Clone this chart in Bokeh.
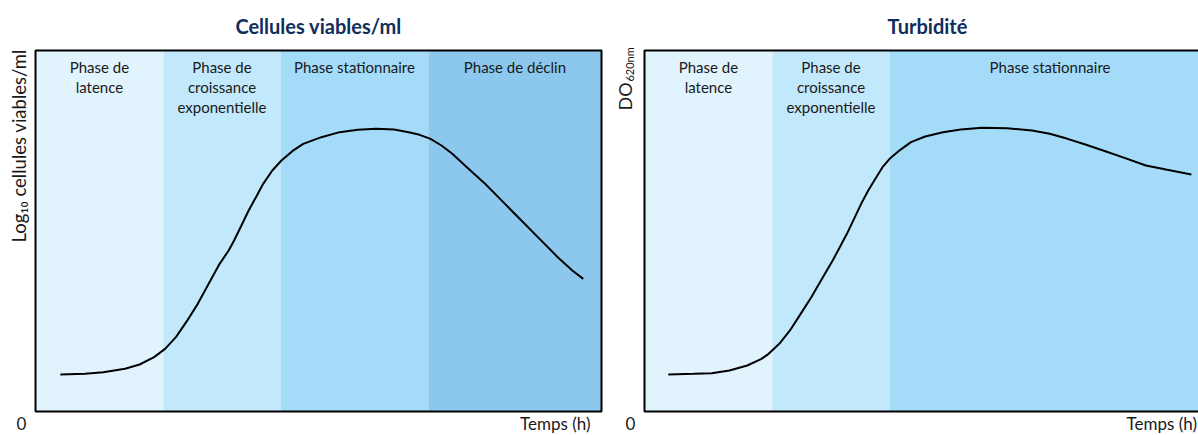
import math
from bokeh.plotting import figure
from bokeh.layouts import row
from bokeh.models import Range1d, ColumnDataSource
from bokeh.core.properties import value
from bokeh.embed import file_html
from bokeh.resources import INLINE

# ---------------- data ----------------
left_title = "Cellules viables/ml"
right_title = "Turbidité"
left_ylabel = "Log₁₀ cellules viables/ml"
right_ylabel_main = "DO"
right_ylabel_sub = "620nm"
xlabel = "Temps (h)"
origin_label = "0"

left_phase_names = ["Phase de\nlatence", "Phase de\ncroissance\nexponentielle",
                    "Phase stationnaire", "Phase de déclin"]
left_phase_bounds = [0, 22.6, 43.3, 69.4, 100]
right_phase_names = ["Phase de\nlatence", "Phase de\ncroissance\nexponentielle",
                     "Phase stationnaire"]
right_phase_bounds = [0, 22.6, 43.3, 100]
phase_colors = ["#e1f4fd", "#c2e9fb", "#a3dbf9", "#8cc8ed"]

left_t = [4.39, 8.75, 11.97, 15.82, 18.39, 20.96, 22.89, 24.81, 26.74, 28.67, 30.60,
          32.53, 34.13, 35.09, 36.38, 37.66, 38.95, 40.23, 41.84, 43.45, 45.37, 47.30,
          50.51, 53.73, 56.94, 60.15, 63.36, 65.93, 67.86, 69.79, 71.72, 73.64, 76.21,
          79.43, 82.64, 85.85, 89.06, 92.27, 94.85, 96.77]
left_v = [10.25, 10.43, 10.90, 11.82, 13.02, 15.05, 17.36, 20.59, 25.02, 29.82, 35.37,
          40.91, 44.60, 47.37, 51.52, 55.68, 59.37, 63.07, 66.76, 69.53, 72.11, 74.15,
          75.99, 77.38, 78.02, 78.30, 78.12, 77.38, 76.64, 75.53, 73.68, 71.38, 67.68,
          63.07, 57.99, 52.91, 47.83, 42.75, 39.06, 36.75]

right_t = [4.20, 8.72, 11.87, 15.01, 18.16, 20.67, 21.93, 23.81, 25.70, 27.59, 29.47,
           31.36, 33.25, 34.50, 35.76, 37.02, 38.28, 39.53, 40.79, 42.05, 43.31, 45.19,
           47.08, 49.59, 52.74, 55.88, 59.65, 64.05, 68.46, 71.60, 74.74, 77.89, 81.03,
           84.80, 88.58, 92.35, 96.62]
right_v = [10.25, 10.43, 10.62, 11.36, 12.74, 14.59, 15.97, 18.74, 22.44, 27.05, 31.67,
           36.75, 41.83, 45.52, 49.22, 53.37, 57.53, 61.22, 64.45, 67.68, 69.99, 72.48,
           74.61, 76.18, 77.38, 78.12, 78.58, 78.49, 77.84, 76.92, 75.53, 73.96, 72.30,
           70.27, 68.14, 66.94, 65.65]

FONT = "Lato"
TITLE_COLOR = "#0f2e5c"
TEXT_COLOR = "#1a1a1a"
PX_X = 5.66   # pixels per x unit
PX_Y = 3.61   # pixels per y unit
H = 435
BOX_TOP = 50
BOX_BOTTOM = 411


def make_panel(width, box_left, title, names, bounds, t, v, temps_x):
    x0 = -box_left / PX_X
    x1 = (width - box_left) / PX_X
    y0 = -(H - BOX_BOTTOM) / PX_Y
    y1 = 100 + BOX_TOP / PX_Y
    p = figure(width=width, height=H, output_backend="svg", toolbar_location=None,
               x_range=Range1d(x0, x1), y_range=Range1d(y0, y1), min_border=0,
               background_fill_color="white", border_fill_color="white")
    p.xaxis.visible = False
    p.yaxis.visible = False
    p.grid.visible = False
    p.outline_line_color = None

    n = len(names)
    src = ColumnDataSource(dict(left=bounds[:-1], right=bounds[1:],
                                color=phase_colors[:n],
                                xc=[(a + b) / 2 for a, b in zip(bounds[:-1], bounds[1:])],
                                yc=[98.0] * n, name=names))
    p.quad(left="left", right="right", bottom=0, top=100, fill_color="color",
           line_color=None, source=src)
    # frame of the box
    p.quad(left=[0], right=[100], bottom=[0], top=[100], fill_color=None,
           line_color="black", line_width=2)
    p.text(x="xc", y="yc", text="name", source=src, text_align="center",
           text_baseline="top", text_font=value(FONT), text_font_size="15px",
           text_line_height=1.13, text_color=TEXT_COLOR)
    p.line(t, v, line_color="black", line_width=2)

    p.text(x=[50], y=[106.9], text=[title], text_align="center",
           text_baseline="middle", text_font=value(FONT), text_font_size="20px",
           text_font_style="bold", text_color=TITLE_COLOR)
    p.text(x=[-2.47], y=[-3.4], text=[origin_label], text_align="center",
           text_baseline="middle", text_font=value(FONT), text_font_size="17px",
           text_color=TEXT_COLOR)
    p.text(x=[temps_x], y=[-3.4], text=[xlabel], text_align="right",
           text_baseline="middle", text_font=value(FONT), text_font_size="17px",
           text_color=TEXT_COLOR)
    return p


p1 = make_panel(612, 35, left_title, left_phase_names, left_phase_bounds,
                left_t, left_v, 98.06)
p1.text(x=[-3.0], y=[46.8], text=[left_ylabel], angle=math.pi / 2,
        text_align="left", text_baseline="middle", text_font=value(FONT),
        text_font_size="18.5px", text_color=TEXT_COLOR)

p2 = make_panel(586, 32, right_title, right_phase_names, right_phase_bounds,
                right_t, right_v, 97.6)
p2.text(x=[-3.36], y=[83.4], text=[right_ylabel_main], angle=math.pi / 2,
        text_align="left", text_baseline="middle", text_font=value(FONT),
        text_font_size="18px", text_color=TEXT_COLOR)
p2.text(x=[-2.6], y=[91.4], text=[right_ylabel_sub], angle=math.pi / 2,
        text_align="left", text_baseline="middle", text_font=value(FONT),
        text_font_size="11px", text_color=TEXT_COLOR)

layout = row(p1, p2)
open("out.html", "w").write(file_html(layout, INLINE))
